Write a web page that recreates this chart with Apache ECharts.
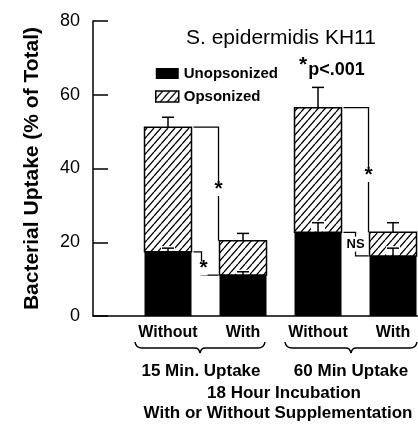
<!DOCTYPE html>
<html>
<head>
<meta charset="utf-8">
<script src="https://cdn.jsdelivr.net/npm/echarts@6/dist/echarts.min.js"></script>
<style>
  html, body { margin: 0; padding: 0; background: #fff; }
  #chart { width: 418px; height: 430px; }
</style>
</head>
<body>
<div id="chart"></div>
<script>
// bars: 15 min (without, with), 60 min (without, with)
const groups = ['Without', 'With', 'Without', 'With'];
const xPos = [1, 2, 3, 4];
const unopsonized = [17.4, 11.1, 22.7, 16.3];
const opsonized = [33.8, 9.3, 33.8, 6.4];
const unopsErr = [1.0, 0.9, 2.6, 2.1];
const totalErr = [2.7, 2.0, 5.5, 2.6];
const yTicks = [0, 20, 40, 60, 80];
// [left bar, right bar, level, label]
const comparisons = [
  [0, 1, 'total', '*'],
  [0, 1, 'unops', '*'],
  [2, 3, 'total', '*'],
  [2, 3, 'unops', 'NS']
];

const FONT = '"Liberation Sans", Arial, sans-serif';
const BAR_W = 47;
const HALF_BAR = BAR_W / 2;

function hatch() {
  const c = document.createElement('canvas');
  const w = 7, h = 8;
  c.width = w; c.height = h;
  const g = c.getContext('2d');
  g.fillStyle = '#fff';
  g.fillRect(0, 0, w, h);
  g.strokeStyle = '#000';
  g.lineWidth = 1.3;
  g.beginPath();
  g.moveTo(0, h); g.lineTo(w, 0);
  g.moveTo(-w, h); g.lineTo(0, 0);
  g.moveTo(w, h); g.lineTo(2 * w, 0);
  g.stroke();
  return c;
}
const hatchFill = { image: hatch(), repeat: 'repeat' };

// curly brace under a pair of bars, left/right ends and top y
function brace(x1, x2, y) {
  const mid = (x1 + x2) / 2;
  const b = y + 6, tip = y + 11;
  const st = { stroke: '#000', lineWidth: 1.5, fill: null };
  return {
    type: 'group',
    children: [
      { type: 'bezierCurve', shape: { x1: x1, y1: y, cpx1: x1 + 1, cpy1: b, x2: x1 + 7, y2: b }, style: st },
      { type: 'line', shape: { x1: x1 + 7, y1: b, x2: mid - 5, y2: b }, style: st },
      { type: 'bezierCurve', shape: { x1: mid - 5, y1: b, cpx1: mid - 1, cpy1: b, x2: mid, y2: tip }, style: st },
      { type: 'bezierCurve', shape: { x1: mid, y1: tip, cpx1: mid + 1, cpy1: b, x2: mid + 5, y2: b }, style: st },
      { type: 'line', shape: { x1: mid + 5, y1: b, x2: x2 - 7, y2: b }, style: st },
      { type: 'bezierCurve', shape: { x1: x2 - 7, y1: b, cpx1: x2 - 1, cpy1: b, x2: x2, y2: y }, style: st }
    ]
  };
}

const totals = unopsonized.map((v, i) => +(v + opsonized[i]).toFixed(1));

const errData = [];
xPos.forEach((x, i) => {
  errData.push([x, unopsonized[i], unopsonized[i] + unopsErr[i], 1]);
  errData.push([x, totals[i], totals[i] + totalErr[i], 0]);
});

const cmpData = comparisons.map(c => {
  const src = c[2] === 'total' ? totals : unopsonized;
  return [xPos[c[0]], src[c[0]], xPos[c[1]], src[c[1]], c[2] === 'total' ? 0 : 1, c[3]];
});

let chart = echarts.init(document.getElementById('chart'));
let option = {
  animation: false,
  grid: { left: 93, right: 0, top: 21, bottom: 114 },
  legend: {
    data: [
      { name: 'Unopsonized', itemStyle: { color: '#000' } },
      { name: 'Opsonized', itemStyle: { color: hatchFill, borderColor: '#000', borderWidth: 1.5 } }
    ],
    orient: 'vertical',
    left: 155,
    top: 66,
    padding: 0,
    itemWidth: 23,
    itemHeight: 11,
    itemGap: 8,
    icon: 'rect',
    selectedMode: false,
    textStyle: { fontFamily: FONT, fontSize: 15, fontWeight: 'bold', color: '#000' }
  },
  xAxis: {
    type: 'value',
    min: 0,
    max: 4.333,
    interval: 1,
    splitLine: { show: false },
    axisTick: { show: false },
    axisLine: { lineStyle: { color: '#000', width: 1.5 } },
    axisLabel: {
      showMaxLabel: false,
      margin: 9,
      fontFamily: FONT,
      fontSize: 16,
      fontWeight: 'bold',
      color: '#000',
      formatter: v => {
        const i = xPos.indexOf(v);
        return i < 0 ? '' : groups[i];
      }
    }
  },
  yAxis: {
    type: 'value',
    min: yTicks[0],
    max: yTicks[yTicks.length - 1],
    interval: 20,
    splitLine: { show: false },
    axisLine: { show: true, lineStyle: { color: '#000', width: 1.5 } },
    axisTick: { show: true, inside: true, length: 15, lineStyle: { color: '#000', width: 1.5 } },
    axisLabel: { margin: 13, fontFamily: FONT, fontSize: 18, color: '#000' },
    name: 'Bacterial Uptake (% of Total)',
    nameLocation: 'middle',
    nameRotate: 90,
    nameGap: 50,
    nameTextStyle: { fontFamily: FONT, fontSize: 21, fontWeight: 'bold', color: '#000' }
  },
  series: [
    {
      name: 'Unopsonized',
      type: 'bar',
      barWidth: BAR_W,
      data: xPos.map((x, i) => [x, unopsonized[i]]),
      itemStyle: { color: '#000' }
    },
    {
      // opsonized part sits on top of the unopsonized bar
      name: 'Opsonized',
      type: 'custom',
      z: 3,
      itemStyle: { color: hatchFill, borderColor: '#000', borderWidth: 1.5 },
      data: xPos.map((x, i) => [x, unopsonized[i], totals[i]]),
      encode: { x: 0, y: [1, 2] },
      renderItem: function (params, api) {
        const lo = api.coord([api.value(0), api.value(1)]);
        const hi = api.coord([api.value(0), api.value(2)]);
        return {
          type: 'rect',
          shape: { x: lo[0] - HALF_BAR, y: hi[1], width: BAR_W, height: lo[1] - hi[1] },
          style: { fill: hatchFill, stroke: '#000', lineWidth: 1.5 }
        };
      }
    },
    {
      type: 'custom',
      z: 4,
      data: errData,
      encode: { x: 0, y: [1, 2] },
      renderItem: function (params, api) {
        const base = api.coord([api.value(0), api.value(1)]);
        const top = api.coord([api.value(0), api.value(2)]);
        const inner = api.value(3) === 1;
        const kids = [];
        if (inner) {
          kids.push({ type: 'rect', shape: { x: top[0] - 7, y: top[1] - 2, width: 14, height: base[1] - top[1] + 1 }, style: { fill: '#fff' } });
        }
        kids.push({ type: 'line', shape: { x1: base[0], y1: base[1], x2: top[0], y2: top[1] }, style: { stroke: '#000', lineWidth: 1.5 } });
        kids.push({ type: 'line', shape: { x1: top[0] - 6, y1: top[1], x2: top[0] + 6, y2: top[1] }, style: { stroke: '#000', lineWidth: 1.5 } });
        return { type: 'group', children: kids };
      }
    },
    {
      type: 'custom',
      z: 5,
      data: cmpData,
      encode: { x: [0, 2], y: [1, 3] },
      renderItem: function (params, api) {
        const p1 = api.coord([api.value(0), api.value(1)]);
        const p2 = api.coord([api.value(2), api.value(3)]);
        const low = api.value(4) === 1;
        const label = cmpData[params.dataIndex][5];
        const l = p1[0] + HALF_BAR + 2;
        const r = p2[0] - HALF_BAR - 1;
        let pts, sx;
        if (!low) {
          sx = r;
          pts = [[l, p1[1]], [r, p1[1]], [r, p2[1]]];
        } else {
          sx = l + (label === 'NS' ? 12 : 8);
          pts = [[l, p1[1]], [sx, p1[1]], [sx, p2[1]], [r, p2[1]]];
        }
        const my = (p1[1] + p2[1]) / 2;
        const star = label === '*';
        return {
          type: 'group',
          children: [
            { type: 'polyline', shape: { points: pts }, style: { stroke: '#000', lineWidth: 1.3, fill: null } },
            {
              type: 'text',
              style: {
                text: label,
                x: sx + (star && low ? 2 : 0),
                y: my + (star ? 5 : 0),
                align: 'center',
                verticalAlign: 'middle',
                fill: '#000',
                font: 'bold ' + (star ? 21 : 13) + 'px ' + FONT,
                backgroundColor: '#fff',
                padding: star ? [-4, 0, -3, 0] : [1, 0]
              }
            }
          ]
        };
      }
    }
  ],
  graphic: [
    { type: 'text', left: 186, top: 28, style: { text: 'S. epidermidis KH11', font: '21px ' + FONT, fill: '#000' } },
    {
      type: 'text', left: 299, top: 55,
      style: {
        text: '{s|*}{n|p<.001}',
        rich: {
          s: { font: 'bold 21px ' + FONT, fill: '#000', verticalAlign: 'top', padding: [0, 1, 0, 0] },
          n: { font: 'bold 18px ' + FONT, fill: '#000', padding: [6, 0, 0, 0] }
        }
      }
    },
    brace(135, 265, 342),
    brace(285, 417, 342),
    { type: 'text', x: 201, y: 371, style: { text: '15 Min. Uptake', font: 'bold 17px ' + FONT, fill: '#000', align: 'center', verticalAlign: 'middle' } },
    { type: 'text', x: 351, y: 371, style: { text: '60 Min Uptake', font: 'bold 17px ' + FONT, fill: '#000', align: 'center', verticalAlign: 'middle' } },
    { type: 'text', x: 284, y: 393, style: { text: '18 Hour Incubation', font: 'bold 17px ' + FONT, fill: '#000', align: 'center', verticalAlign: 'middle' } },
    { type: 'text', x: 278, y: 413, style: { text: 'With or Without Supplementation', font: 'bold 17px ' + FONT, fill: '#000', align: 'center', verticalAlign: 'middle' } }
  ]
};
chart.setOption(option);
</script>
</body>
</html>
